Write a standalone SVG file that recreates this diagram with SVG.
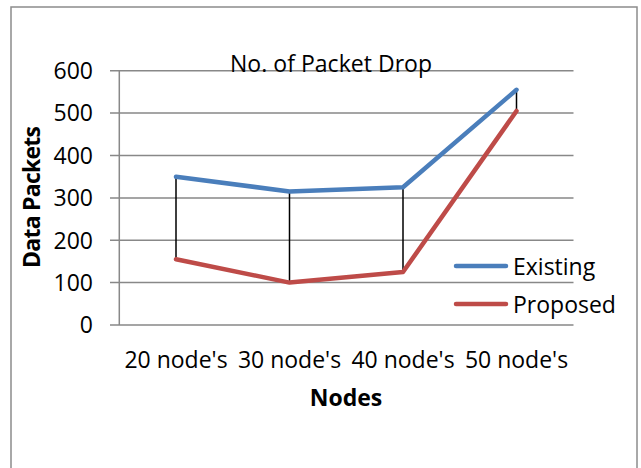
<svg xmlns="http://www.w3.org/2000/svg" width="641" height="468" viewBox="0 0 641 468">
<style>
text{font-family:"Open Sans","Liberation Sans",sans-serif;font-size:23px;fill:#000}
.b{font-weight:bold}
.grid{stroke:#888;stroke-width:1.5;fill:none}
.ex{stroke:#4a7ebb;stroke-width:4.5;fill:none;stroke-linecap:round;stroke-linejoin:round}
.pr{stroke:#be4b48;stroke-width:4.5;fill:none;stroke-linecap:round;stroke-linejoin:round}
.hl{stroke:#000;stroke-width:1.5}
.yl{text-anchor:end}
.m{text-anchor:middle}
</style>
<rect x="11" y="7" width="626" height="470" fill="#fff" stroke="#8c8c8c" stroke-width="1.5"/>
<g id="gridlines">
<path class="grid" d="M110 70.7H573.5M110 113.1H573.5M110 155.5H573.5M110 197.9H573.5M110 240.3H573.5M110 282.6H573.5M110 325H573.5M119.3 70.7V325"/>
</g>
<g id="title"><text x="331" y="72" class="m" textLength="202">No. of Packet Drop</text></g>
<g id="y-axis">
<text class="yl" x="93" y="79">600</text>
<text class="yl" x="93" y="121.4">500</text>
<text class="yl" x="93" y="163.8">400</text>
<text class="yl" x="93" y="206.2">300</text>
<text class="yl" x="93" y="248.6">200</text>
<text class="yl" x="93" y="290.9">100</text>
<text class="yl" x="93" y="333.3">0</text>
<text class="b m" transform="translate(40,197) rotate(-90)" textLength="142">Data Packets</text>
</g>
<g id="x-axis">
<text class="m" x="176" y="368">20 node's</text>
<text class="m" x="289.5" y="368">30 node's</text>
<text class="m" x="403" y="368">40 node's</text>
<text class="m" x="516.5" y="368">50 node's</text>
<text class="b m" x="346" y="406">Nodes</text>
</g>
<g id="connectors">
<path class="hl" d="M176 176.7V259.3M289.5 191.5V282.6M403 187.3V272M516.5 89.8V111"/>
</g>
<g id="series-existing">
<polyline class="ex" points="176,176.7 289.5,191.5 403,187.3 516.5,89.8"/>
</g>
<g id="series-proposed">
<polyline class="pr" points="176,259.3 289.5,282.6 403,272 516.5,111"/>
</g>
<g id="legend">
<line class="ex" x1="456" y1="266" x2="506" y2="266"/>
<text x="513" y="274.5">Existing</text>
<line class="pr" x1="456" y1="304" x2="506" y2="304"/>
<text x="513" y="312.5">Proposed</text>
</g>
</svg>
